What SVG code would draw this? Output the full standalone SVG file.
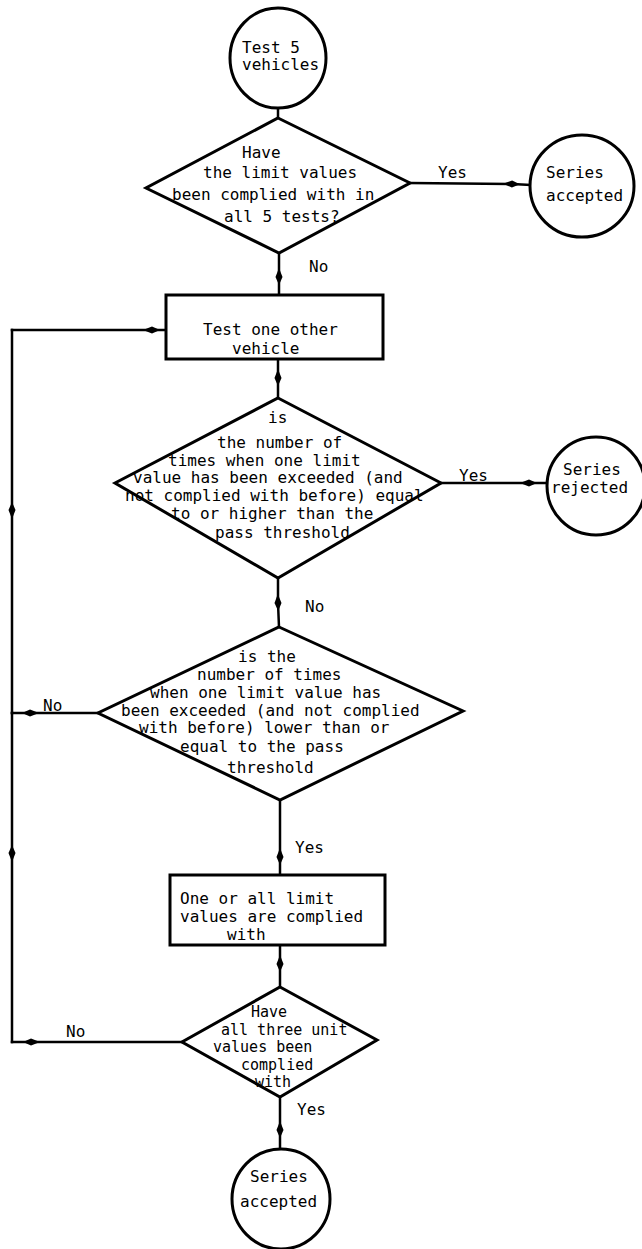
<svg xmlns="http://www.w3.org/2000/svg" width="642" height="1249" viewBox="0 0 642 1249">
<style>
  .shape { fill: #ffffff; stroke: #000000; stroke-width: 3; stroke-linejoin: miter; }
  .conn { fill: none; stroke: #000000; stroke-width: 2.5; stroke-linecap: square; }
  .arr { marker-mid: url(#ah); }
  text { font-family: "DejaVu Sans Mono", "Liberation Mono", monospace; font-size: 16px; fill: #000000; }
  .small { font-size: 15px; }
</style>
<defs>
  <marker id="ah" viewBox="-10 -5 20 10" markerWidth="20" markerHeight="10" markerUnits="userSpaceOnUse" orient="auto" refX="0" refY="0">
    <path d="M-9,0 L0,-3.5 L8,0 L0,3.5 Z" fill="#000000"/>
  </marker>
</defs>
<rect x="0" y="0" width="642" height="1249" fill="#ffffff"/>

<g id="connectors">
  <path class="conn" d="M278,108 L278,118"/>
  <path class="conn arr" d="M410,183 L512,184 L530,185"/>
  <path class="conn arr" d="M279,253 L279,277 L279,295"/>
  <path class="conn arr" d="M278,359 L278,378 L278,398"/>
  <path class="conn arr" d="M441,483 L529,483 L547,483"/>
  <path class="conn arr" d="M278,578 L278,603 L279,627"/>
  <path class="conn arr" d="M280,800 L280,857 L280,875"/>
  <path class="conn arr" d="M280,945 L280,964 L280,987"/>
  <path class="conn arr" d="M280,1097 L280,1130 L280,1149"/>
  <path class="conn arr" d="M98,713 L30,713 L12,713"/>
  <path class="conn arr" d="M182,1042 L31,1042 L12,1042"/>
  <path class="conn arr" d="M12,1042 L12,853 L12,713"/>
  <path class="conn arr" d="M12,713 L12,510 L12,330"/>
  <path class="conn arr" d="M12,330 L152,330 L166,330"/>
</g>

<g id="start">
  <ellipse class="shape" cx="278" cy="58" rx="48" ry="50"/>
  <text x="242" y="53">Test 5</text>
  <text x="242" y="70">vehicles</text>
</g>

<g id="decision1">
  <polygon class="shape" points="278,118 410,183 279,253 146,188"/>
  <text x="242" y="158">Have</text>
  <text x="203" y="178">the limit values</text>
  <text x="172" y="200">been complied with in</text>
  <text x="224" y="222">all 5 tests?</text>
</g>

<g id="accepted1">
  <ellipse class="shape" cx="582" cy="186" rx="52" ry="51"/>
  <text x="546" y="178">Series</text>
  <text x="546" y="201">accepted</text>
</g>

<g id="test-one">
  <rect class="shape" x="166" y="295" width="217" height="64"/>
  <text x="203" y="335">Test one other</text>
  <text x="232" y="354">vehicle</text>
</g>

<g id="decision2">
  <polygon class="shape" points="278,398 441,483 278,578 115,483"/>
  <text x="268" y="423">is</text>
  <text x="217" y="448">the number of</text>
  <text x="168" y="466">times when one limit</text>
  <text x="133" y="483">value has been exceeded (and</text>
  <text x="125" y="501">not complied with before) equal</text>
  <text x="171" y="519">to or higher than the</text>
  <text x="215" y="538">pass threshold</text>
</g>

<g id="rejected">
  <ellipse class="shape" cx="596" cy="486" rx="49" ry="49"/>
  <text x="563" y="475">Series</text>
  <text x="551" y="493">rejected</text>
</g>

<g id="decision3">
  <polygon class="shape" points="279,627 463,711 280,800 98,713"/>
  <text x="238" y="662">is the</text>
  <text x="197" y="680">number of times</text>
  <text x="150" y="698">when one limit value has</text>
  <text x="121" y="716">been exceeded (and not complied</text>
  <text x="139" y="733">with before) lower than or</text>
  <text x="180" y="752">equal to the pass</text>
  <text x="227" y="773">threshold</text>
</g>

<g id="complied">
  <rect class="shape" x="170" y="875" width="215" height="70"/>
  <text x="180" y="904">One or all limit</text>
  <text x="180" y="922">values are complied</text>
  <text x="227" y="940">with</text>
</g>

<g id="decision4">
  <polygon class="shape" points="280,987 377,1040 280,1097 182,1042"/>
  <text class="small" x="251" y="1017">Have</text>
  <text class="small" x="221" y="1034.5">all three unit</text>
  <text class="small" x="213" y="1052">values been</text>
  <text class="small" x="241" y="1069.5">complied</text>
  <text class="small" x="255" y="1087">with</text>
</g>

<g id="accepted2">
  <ellipse class="shape" cx="281" cy="1199" rx="49" ry="50"/>
  <text x="250" y="1182">Series</text>
  <text x="240" y="1207">accepted</text>
</g>

<g id="labels">
  <text x="438" y="178">Yes</text>
  <text x="309" y="272">No</text>
  <text x="459" y="481">Yes</text>
  <text x="305" y="612">No</text>
  <text x="43" y="711">No</text>
  <text x="295" y="853">Yes</text>
  <text x="66" y="1037">No</text>
  <text x="297" y="1115">Yes</text>
</g>
</svg>
